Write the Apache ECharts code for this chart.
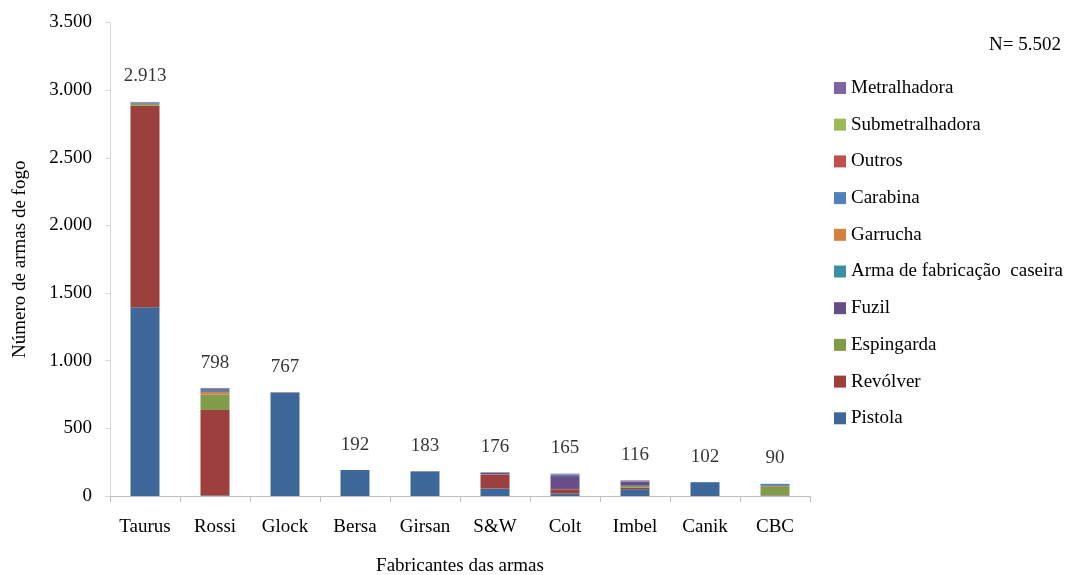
<!DOCTYPE html>
<html>
<head>
<meta charset="utf-8">
<script src="https://cdn.jsdelivr.net/npm/echarts@6/dist/echarts.min.js"></script>
<style>html,body{margin:0;padding:0;background:#fff}#chart{width:1065px;height:575px}</style>
</head>
<body>
<div id="chart"></div>
<script>
var categories = ['Taurus','Rossi','Glock','Bersa','Girsan','S&W','Colt','Imbel','Canik','CBC'];
var pistola         = [1395,   4, 765, 192, 182,  55, 18, 50, 102,  2];
var revolver        = [1490, 632,   0,   0,   0, 102, 32, 12,   0,  3];
var espingarda      = [  12, 113,   0,   0,   0,   2,  2, 14,   0, 62];
var fuzil           = [   2,   2,   0,   0,   0,  12, 95, 30,   0,  0];
var armaCaseira     = [   0,   0,   0,   0,   0,   0,  0,  0,   0,  0];
var garrucha        = [   0,  18,   0,   0,   0,   0,  0,  0,   0,  8];
var carabina        = [  10,  22,   0,   0,   0,   4, 12,  4,   0, 15];
var outros          = [   3,   6,   2,   0,   1,   1,  3,  3,   0,  0];
var submetralhadora = [   1,   1,   0,   0,   0,   0,  0,  0,   0,  0];
var metralhadora    = [   0,   0,   0,   0,   0,   0,  3,  3,   0,  0];
var yTicks = [0, 500, 1000, 1500, 2000, 2500, 3000, 3500];

var seriesDefs = [
  ['Pistola', pistola, '#3e6899'],
  ['Revólver', revolver, '#9c3f3d'],
  ['Espingarda', espingarda, '#7f9c4a'],
  ['Fuzil', fuzil, '#664f88'],
  ['Arma de fabricação  caseira', armaCaseira, '#3c8fa3'],
  ['Garrucha', garrucha, '#d6813d'],
  ['Carabina', carabina, '#4f81bd'],
  ['Outros', outros, '#c0504d'],
  ['Submetralhadora', submetralhadora, '#9bbb59'],
  ['Metralhadora', metralhadora, '#8064a2']
];

function fmt(v){ return String(v).replace(/\B(?=(\d{3})+(?!\d))/g, '.'); }

var totals = categories.map(function(c, i){
  var s = 0; seriesDefs.forEach(function(d){ s += d[1][i]; }); return s;
});

var FONT = '"Liberation Serif", "DejaVu Serif", serif';
var FS = 19;

var series = seriesDefs.map(function(d){
  return {
    name: d[0], type: 'bar', stack: 'total', data: d[1], barWidth: 29,
    itemStyle: { color: d[2] }
  };
});
series.push({
  name: 'Total', type: 'scatter', data: totals, symbolSize: 0, silent: true,
  label: { show: true, position: 'top', distance: 16, formatter: function(p){ return fmt(p.value); },
    fontFamily: FONT, fontSize: FS, color: '#000' }
});

var chart = echarts.init(document.getElementById('chart'));
chart.setOption({
  animation: false,
  textStyle: { fontFamily: FONT },
  grid: { left: 110, right: 255, top: 22.5, bottom: 79, outerBoundsMode: 'none', containLabel: false },
  legend: {
    orient: 'vertical', left: 834, top: 78.5, padding: 0,
    data: seriesDefs.map(function(d){ return d[0]; }).reverse(),
    itemWidth: 12, itemHeight: 12, itemGap: 17.7, icon: 'rect',
    textStyle: { fontFamily: FONT, fontSize: FS, color: '#000' }
  },
  graphic: [{
    type: 'text', right: 4, top: 36,
    style: { text: 'N= 5.502', font: FS + 'px ' + FONT, fill: '#000' }
  }],
  xAxis: {
    type: 'category', data: categories,
    name: 'Fabricantes das armas', nameLocation: 'middle', nameGap: 60.5,
    nameTextStyle: { fontFamily: FONT, fontSize: FS, color: '#000' },
    axisLine: { lineStyle: { color: '#bfbfbf' } },
    axisTick: { show: true, length: 6, lineStyle: { color: '#bfbfbf' } },
    axisLabel: { fontFamily: FONT, fontSize: FS, color: '#000', margin: 21.5 }
  },
  yAxis: {
    type: 'value', min: 0, max: 3500, interval: 500,
    name: 'Número de armas de fogo', nameLocation: 'middle', nameGap: 80.5,
    nameTextStyle: { fontFamily: FONT, fontSize: FS, color: '#000' },
    axisLine: { show: true, lineStyle: { color: '#d9d9d9' } },
    axisTick: { show: true, length: 5, lineStyle: { color: '#d9d9d9' } },
    splitLine: { show: false },
    axisLabel: { fontFamily: FONT, fontSize: FS, color: '#000', margin: 18,
      formatter: function(v){ return yTicks.indexOf(v) >= 0 ? fmt(v) : ''; } }
  },
  series: series
});
</script>
</body>
</html>
